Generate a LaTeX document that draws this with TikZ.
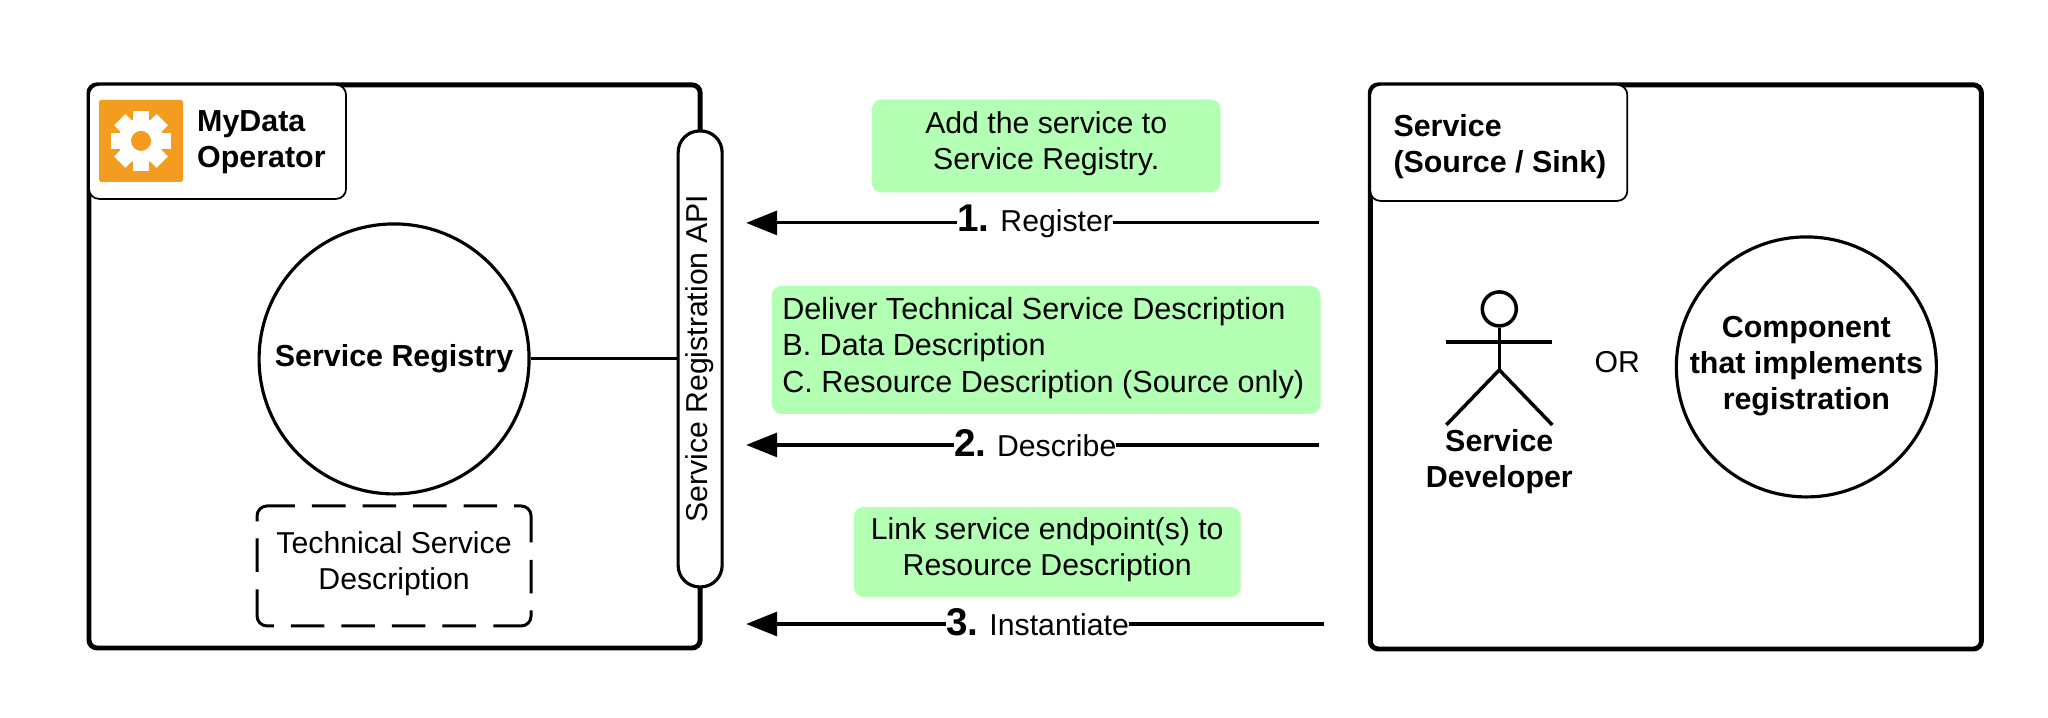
\documentclass[tikz,border=0pt]{standalone}
\usepackage{fontspec}
\setmainfont{Liberation Sans}
\usetikzlibrary{arrows.meta}

\definecolor{notegreen}{HTML}{B3FFB3}
\definecolor{gearorange}{HTML}{F39C1F}

\newcommand{\stepnum}[1]{\fontsize{22}{20}\selectfont\bfseries #1\ \fontsize{17.2}{20}\mdseries\selectfont}

\tikzset{
  bodytext/.style={font=\fontsize{17.2}{20.6}\selectfont, align=center},
  boldtext/.style={font=\fontsize{17.3}{20.6}\selectfont\bfseries, align=center},
  outerbox/.style={line width=2.8pt, rounded corners=0.16cm},
  tagbox/.style={line width=1pt, rounded corners=0.2cm, fill=white},
  note/.style={bodytext, fill=notegreen, rounded corners=0.2cm, text depth=6.5pt},
  stepline/.style={line width=1.8pt, -{Triangle[length=0.62cm,width=0.48cm]}},
  steplabel/.style={bodytext, fill=white, inner xsep=0pt, inner ysep=2pt, xshift=0.05cm, yshift=0.03cm},
  bigcircle/.style={circle, draw, line width=1.8pt, inner sep=0pt},
  stick/.style={line width=2pt}
}

\begin{document}
\begin{tikzpicture}
\useasboundingbox (0,0) rectangle (40.96,14.34);
\begin{scope}[x=0.02cm, y=-0.02cm, shift={(0,-717)}]

% left side
\draw[outerbox] (89,85) rectangle (700,648);
\draw[tagbox] (89,85) rectangle (346,199);
\fill[gearorange, rounded corners=1pt] (99,100) rectangle (183,182);
\foreach \a in {0,45,...,315} {
  \fill[white, rotate around={\a:(141,141)}] (133,111) rectangle (149,125);
}
\fill[white] (141,141) circle (22.5*0.02cm);
\fill[gearorange] (141,141) circle (10*0.02cm);
\draw (191,142) node[boldtext, align=left, anchor=west] (operator) {MyData\\Operator};

\draw (394,359) node[bigcircle, boldtext, minimum size=5.4cm] (registry) {Service Registry};
\draw[line width=1.7pt, rounded corners=0.2cm, dash pattern=on .67cm off .34cm on .67cm off .34cm on .67cm off .34cm on .67cm off .34cm on .98cm off .35cm on .67cm off .34cm on .98cm off .35cm on .67cm off .34cm on .67cm off .34cm on .67cm off .34cm on .67cm off .34cm on .98cm off .35cm on .67cm off .34cm on .98cm off .34cm]
  (302,506) -- (531,506) -- (531,626) -- (257,626) -- (257,506) -- cycle;
\draw (394,566) node[bodytext, text depth=6.5pt] (description) {Technical Service\\Description};
\draw (700,359) node[bodytext, draw, fill=white, line width=1.8pt, rounded corners=0.43cm, rotate=90, minimum width=9.12cm, minimum height=0.88cm, inner sep=0pt] (api) {Service Registration API};
\draw[line width=1.7pt] (registry) -- (api);

% right side
\draw[outerbox] (1370,85) rectangle (1981,649);
\draw[tagbox] (1370,85) rectangle (1627,201);
\draw (1387,147) node[boldtext, align=left, anchor=west] (service) {Service\\(Source / Sink)};

\draw (1499,309) node[circle, draw, stick, minimum size=0.68cm, inner sep=0pt] (head) {};
\coordinate (hip) at (1499,370);
\draw[stick] (head) -- (hip);
\draw[stick] (1446,342) -- (1552,342);
\draw[stick] (1446,425) -- (hip) -- (1552,425);
\draw (1499,462) node[boldtext] (developer) {Service\\Developer};
\draw (1617,362) node[bodytext] (or) {OR};
\draw (1806,367) node[bigcircle, minimum size=5.2cm] (component) {};
\draw (1806,366) node[boldtext] (componenttext) {Component\\that implements\\registration};

% steps
\draw (1046,146) node[note, minimum width=6.98cm, minimum height=1.86cm] (addnote) {Add the service to\\Service Registry.};
\draw (1046,350) node[fill=notegreen, rounded corners=0.2cm, minimum width=10.98cm, minimum height=2.56cm] (deliverbox) {};
\draw (776,348) node[bodytext, align=left, anchor=west, font=\fontsize{17.4}{20.6}\selectfont] (delivernote) {Deliver Technical Service Description\\B. Data Description\\C. Resource Description (Source only)};
\draw (1047,552) node[note, minimum width=7.74cm, minimum height=1.8cm] (linknote) {Link service endpoint(s) to\\Resource Description};

\coordinate (regfrom) at (1319,223);
\coordinate (regto) at (746,223);
\coordinate (desfrom) at (1319,445);
\coordinate (desto) at (746,445);
\coordinate (insfrom) at (1324,624);
\coordinate (insto) at (746,624);

\draw[stepline] (regfrom) -- node[steplabel] (register) {\stepnum{1.}Register} (regto);
\draw[stepline] (desfrom) -- node[steplabel] (describe) {\stepnum{2.}Describe} (desto);
\draw[stepline] (insfrom) -- node[steplabel] (instantiate) {\stepnum{3.}Instantiate} (insto);

\end{scope}
\end{tikzpicture}
\end{document}
